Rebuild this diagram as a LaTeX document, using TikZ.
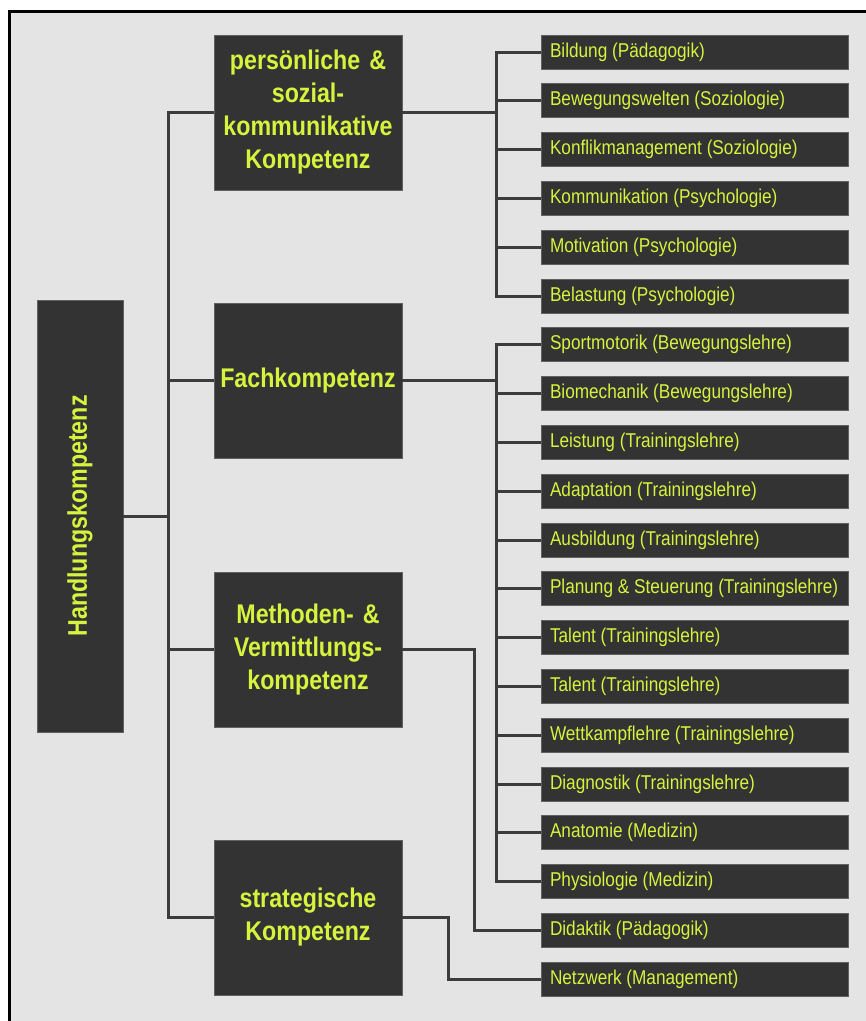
\documentclass[tikz,border=0pt]{standalone}
\usepackage{fontspec}
\setmainfont{Liberation Sans}
\newfontfamily\squeezed[FakeStretch=0.86]{Liberation Sans}
\usetikzlibrary{positioning}

\definecolor{pagegrey}{HTML}{E4E4E4}
\definecolor{boxgrey}{HTML}{333333}
\definecolor{linegrey}{HTML}{3C3C3C}
\definecolor{limetext}{HTML}{D6F33E}

\newcommand{\topictext}[1]{\makebox[289pt][l]{#1}}

\tikzset{
	kbox/.style={fill=boxgrey, draw=gray!60!boxgrey, line width=0.8pt, text=limetext, inner sep=0pt, outer sep=0pt},
	rootbox/.style={kbox, minimum width=86pt, minimum height=432pt, font=\squeezed\bfseries\fontsize{27}{32}\selectfont},
	areabox/.style={kbox, minimum width=188pt, minimum height=155pt, text width=186pt, align=center, font=\squeezed\bfseries\fontsize{27}{33}\selectfont},
	topicbox/.style={kbox, minimum width=307pt, minimum height=34pt, inner xsep=9pt, font=\squeezed\fontsize{20}{24}\selectfont},
	link/.style={draw=linegrey, line width=3pt}
}

\begin{document}
\begin{tikzpicture}[x=1pt, y=-1pt, node distance=14.8pt]
	\useasboundingbox (0,0) rectangle (866,1021);
	\fill[pagegrey] (9.5,11) rectangle (866,1021);
	\draw[line width=3pt] (9.5,1021) -- (9.5,11) -- (866,11);
	%
	\node[rootbox] (hk) at (80,516) {\rotatebox{90}{Handlungskompetenz}};
	\node[areabox] (pers) at (308,112.5) {persönliche \&\\sozial-\\kommunikative\\Kompetenz};
	\node[areabox, below=113pt of pers] (fach) {Fachkompetenz};
	\node[areabox, below=114pt of fach] (meth) {Methoden- \&\\Vermittlungs-\\kompetenz};
	\node[areabox, below=113pt of meth] (strat) {strategische\\Kompetenz};
	%
	\node[topicbox] (t1) at (694.5,52) {\topictext{Bildung (Pädagogik)}};
	\node[topicbox, below=of t1] (t2) {\topictext{Bewegungswelten (Soziologie)}};
	\node[topicbox, below=of t2] (t3) {\topictext{Konflikmanagement (Soziologie)}};
	\node[topicbox, below=of t3] (t4) {\topictext{Kommunikation (Psychologie)}};
	\node[topicbox, below=of t4] (t5) {\topictext{Motivation (Psychologie)}};
	\node[topicbox, below=of t5] (t6) {\topictext{Belastung (Psychologie)}};
	\node[topicbox, below=of t6] (t7) {\topictext{Sportmotorik (Bewegungslehre)}};
	\node[topicbox, below=of t7] (t8) {\topictext{Biomechanik (Bewegungslehre)}};
	\node[topicbox, below=of t8] (t9) {\topictext{Leistung (Trainingslehre)}};
	\node[topicbox, below=of t9] (t10) {\topictext{Adaptation (Trainingslehre)}};
	\node[topicbox, below=of t10] (t11) {\topictext{Ausbildung (Trainingslehre)}};
	\node[topicbox, below=of t11] (t12) {\topictext{Planung \& Steuerung (Trainingslehre)}};
	\node[topicbox, below=of t12] (t13) {\topictext{Talent (Trainingslehre)}};
	\node[topicbox, below=of t13] (t14) {\topictext{Talent (Trainingslehre)}};
	\node[topicbox, below=of t14] (t15) {\topictext{Wettkampflehre (Trainingslehre)}};
	\node[topicbox, below=of t15] (t16) {\topictext{Diagnostik (Trainingslehre)}};
	\node[topicbox, below=of t16] (t17) {\topictext{Anatomie (Medizin)}};
	\node[topicbox, below=of t17] (t18) {\topictext{Physiologie (Medizin)}};
	\node[topicbox, below=of t18] (t19) {\topictext{Didaktik (Pädagogik)}};
	\node[topicbox, below=of t19] (t20) {\topictext{Netzwerk (Management)}};
	%
	\coordinate (trunk) at (168,0);
	\coordinate (bus) at (496,0);
	\coordinate (methbus) at (474,0);
	\coordinate (stratbus) at (448,0);
	%
	\draw[link] (hk.east) -- (hk.east -| trunk);
	\draw[link] (pers.west) -| (trunk |- strat.west) -- (strat.west);
	\draw[link] (fach.west) -- (fach.west -| trunk);
	\draw[link] (meth.west) -- (meth.west -| trunk);
	%
	\draw[link] (pers.east) -- (pers.east -| bus);
	\draw[link] (t1.west) -| (bus |- t6.west) -- (t6.west);
	\draw[link] (t2.west) -- (t2.west -| bus);
	\draw[link] (t3.west) -- (t3.west -| bus);
	\draw[link] (t4.west) -- (t4.west -| bus);
	\draw[link] (t5.west) -- (t5.west -| bus);
	%
	\draw[link] (fach.east) -- (fach.east -| bus);
	\draw[link] (t7.west) -| (bus |- t18.west) -- (t18.west);
	\draw[link] (t8.west) -- (t8.west -| bus);
	\draw[link] (t9.west) -- (t9.west -| bus);
	\draw[link] (t10.west) -- (t10.west -| bus);
	\draw[link] (t11.west) -- (t11.west -| bus);
	\draw[link] (t12.west) -- (t12.west -| bus);
	\draw[link] (t13.west) -- (t13.west -| bus);
	\draw[link] (t14.west) -- (t14.west -| bus);
	\draw[link] (t15.west) -- (t15.west -| bus);
	\draw[link] (t16.west) -- (t16.west -| bus);
	\draw[link] (t17.west) -- (t17.west -| bus);
	%
	\draw[link] (meth.east) -| (methbus |- t19.west) -- (t19.west);
	\draw[link] (strat.east) -| (stratbus |- t20.west) -- (t20.west);
\end{tikzpicture}
\end{document}
